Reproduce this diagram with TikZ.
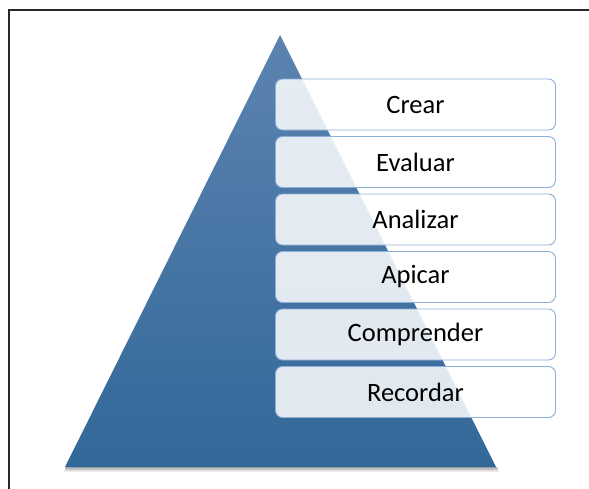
\documentclass[tikz,border=0pt]{standalone}
\usepackage{fontspec}
\setmainfont{Carlito}
\usetikzlibrary{shadows,fadings}
\definecolor{tritop}{RGB}{92,131,176}
\definecolor{tribot}{RGB}{50,104,153}
\definecolor{boxline}{RGB}{140,175,215}
\definecolor{frame}{RGB}{40,40,40}
\tikzset{
  level/.style={draw=boxline, line width=0.9pt, fill=white, fill opacity=0.85,
    text opacity=1, rounded corners=7pt, minimum width=280pt, minimum height=51pt,
    inner sep=0pt, font=\fontsize{26.5}{30}\selectfont, anchor=center},
}
\begin{document}
\begin{tikzpicture}[x=1pt,y=-1pt]
\useasboundingbox (0,0) rectangle (589,488);
\draw[frame, line width=1.5pt] (9,490) -- (9,10) -- (591,10);
\coordinate (apex) at (280,35);
\coordinate (bl) at (65,467);
\coordinate (br) at (496,467);
\fill[black, opacity=0.35, path fading=south] (66,467) -- (497,467) -- (499,472) -- (64,472) -- cycle;
\shade[top color=tritop, bottom color=tribot] (apex) -- (br) -- (bl) -- cycle;
\node[level] (crear) at (415.5,104.5) {Crear};
\node[level] (evaluar) at (415.5,162) {Evaluar};
\node[level] (analizar) at (415.5,219.5) {Analizar};
\node[level] (apicar) at (415.5,277) {Apicar};
\node[level] (comprender) at (415.5,334.5) {Comprender};
\node[level] (recordar) at (415.5,392) {Recordar};
\end{tikzpicture}
\end{document}
